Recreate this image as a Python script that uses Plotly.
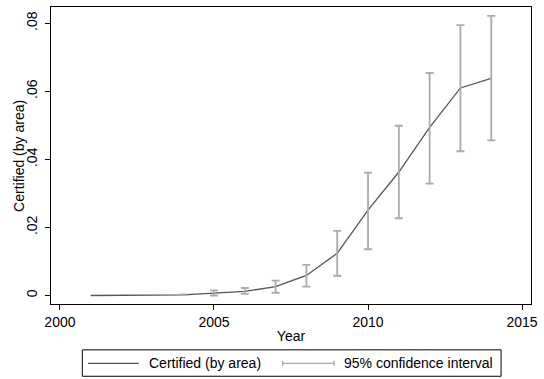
import plotly.graph_objects as go

years = [2001, 2003, 2004, 2005, 2006, 2007, 2008, 2009, 2010, 2011, 2012, 2013, 2014]
certified = [0.0, 0.0001, 0.0002, 0.0007, 0.0012, 0.0026, 0.0059, 0.0124, 0.0251, 0.0363, 0.0494, 0.0610, 0.0638]
ci_years = [2004, 2005, 2006, 2007, 2008, 2009, 2010, 2011, 2012, 2013, 2014]
ci_low = [0.0001, 0.0000, 0.0005, 0.0008, 0.0026, 0.0058, 0.0136, 0.0227, 0.0329, 0.0424, 0.0456]
ci_high = [0.0003, 0.0015, 0.0022, 0.0044, 0.0090, 0.0190, 0.0361, 0.0499, 0.0654, 0.0795, 0.0822]

yticks = [0, 0.02, 0.04, 0.06, 0.08]
ytick_labels = ["0", ".02", ".04", ".06", ".08"]
xticks = [2000, 2005, 2010, 2015]

W, H = 544, 379
L, R, T, B = 51, 7, 6, 75
PW, PH = W - L - R, H - T - B

LINE_C = "#555555"
CI_C = "#ababab"
FONT = "Liberation Sans, Arial, Helvetica, sans-serif"
FS = 14

def px(x):
    return (x - L) / PW

def py(y):
    return (H - B - y) / PH

fig = go.Figure()
fig.add_trace(go.Scatter(x=years, y=certified, mode="lines",
                         line=dict(color=LINE_C, width=1.3), showlegend=False))
fig.add_trace(go.Scatter(
    x=ci_years, y=ci_high, mode="markers", marker=dict(opacity=0, size=1),
    error_y=dict(type="data", symmetric=False, array=[0] * len(ci_high),
                 arrayminus=[h - l for h, l in zip(ci_high, ci_low)],
                 color=CI_C, thickness=1.8, width=4),
    showlegend=False))

axis_common = dict(showline=True, linecolor="black", linewidth=1.2, mirror=True,
                   ticks="outside", ticklen=5, tickcolor="black", tickwidth=1,
                   showgrid=False, zeroline=False,
                   tickfont=dict(family=FONT, size=FS, color="black"))

fig.update_xaxes(range=[1999.71, 2015.29], tickvals=xticks,
                 title=dict(text="Year", font=dict(family=FONT, size=FS, color="black"), standoff=2),
                 **axis_common)
fig.update_yaxes(range=[-0.0025, 0.0848], tickvals=yticks, ticktext=ytick_labels,
                 tickangle=-90, ticklabelstandoff=2,
                 **axis_common)

# legend box (drawn manually, Stata style)
LY = 363.5
shapes = [
    dict(type="rect", xref="paper", yref="paper", x0=px(82.7), x1=px(506.7), y0=py(376.5), y1=py(350),
         line=dict(color="black", width=1), fillcolor="white"),
    dict(type="line", xref="paper", yref="paper", x0=px(88.5), x1=px(140), y0=py(LY), y1=py(LY),
         line=dict(color=LINE_C, width=1.3)),
    dict(type="line", xref="paper", yref="paper", x0=px(285), x1=px(338), y0=py(LY), y1=py(LY),
         line=dict(color=CI_C, width=1.3)),
    dict(type="line", xref="paper", yref="paper", x0=px(285.5), x1=px(285.5), y0=py(LY - 2.5), y1=py(LY + 2.5),
         line=dict(color=CI_C, width=1.3)),
    dict(type="line", xref="paper", yref="paper", x0=px(337.5), x1=px(337.5), y0=py(LY - 2.5), y1=py(LY + 2.5),
         line=dict(color=CI_C, width=1.3)),
]
annotations = [
    dict(text="Certified (by area)", xref="paper", yref="paper", x=px(18), y=py(155),
         xanchor="center", yanchor="middle", textangle=-90, showarrow=False,
         font=dict(family=FONT, size=FS, color="black")),
    dict(text="Certified (by area)", xref="paper", yref="paper", x=px(148), y=py(LY),
         xanchor="left", yanchor="middle", showarrow=False,
         font=dict(family=FONT, size=FS, color="black")),
    dict(text="95% confidence interval", xref="paper", yref="paper", x=px(345.5), y=py(LY),
         xanchor="left", yanchor="middle", showarrow=False,
         font=dict(family=FONT, size=FS, color="black")),
]

fig.update_layout(width=W, height=H, margin=dict(l=L, r=R, t=T, b=B),
                  paper_bgcolor="white", plot_bgcolor="white",
                  shapes=shapes, annotations=annotations, showlegend=False)

fig.write_html("out.html")
